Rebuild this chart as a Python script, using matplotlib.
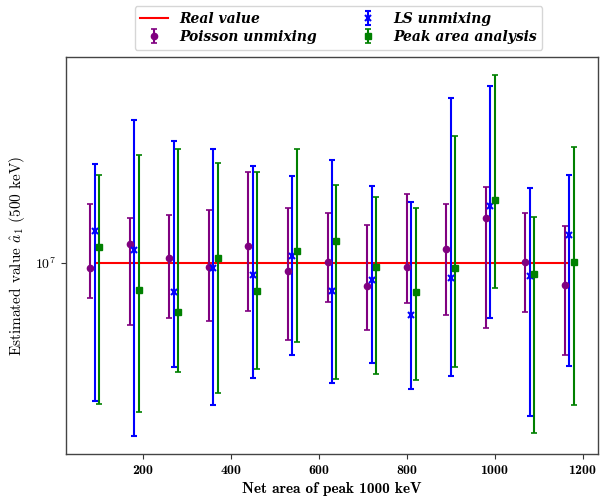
import numpy as np
import matplotlib
matplotlib.use("Agg")
import matplotlib.pyplot as plt

plt.rcParams['mathtext.fontset'] = 'cm'
plt.rcParams['font.family'] = 'cmr10'
plt.rcParams['axes.unicode_minus'] = False
plt.rcParams['axes.formatter.use_mathtext'] = True

# Data (values in units of 1e6)
poisson_x = [80, 170, 260, 350, 440, 530, 620, 710, 800, 890, 980, 1070, 1160]
ls_x = [90, 180, 270, 360, 450, 540, 630, 720, 810, 900, 990, 1080, 1170]
peak_x = [100, 190, 280, 370, 460, 550, 640, 730, 820, 910, 1000, 1090, 1180]

poisson_val = [9.76, 10.93, 10.22, 9.83, 10.81, 9.64, 10.06, 9.01, 9.82, 10.67, 12.27, 10.02, 9.05]
poisson_hi = [13.09, 12.27, 12.47, 12.76, 15.18, 12.86, 12.61, 11.88, 13.74, 13.12, 14.15, 12.61, 11.84]
poisson_lo = [8.50, 7.51, 7.75, 7.66, 8.01, 7.00, 8.37, 7.34, 8.33, 7.87, 7.40, 7.98, 6.54]

ls_val = [11.56, 10.60, 8.74, 9.79, 9.48, 10.30, 8.79, 9.26, 7.88, 9.33, 13.00, 9.42, 11.38]
ls_hi = [15.73, 19.32, 17.51, 16.90, 15.61, 14.89, 16.07, 14.22, 13.21, 21.38, 22.53, 14.09, 15.00]
ls_lo = [5.29, 4.51, 6.19, 5.19, 5.88, 6.55, 5.75, 6.30, 5.59, 5.95, 7.76, 4.94, 6.22]

peak_val = [10.77, 8.83, 7.97, 10.23, 8.77, 10.55, 11.07, 9.83, 8.74, 9.76, 13.37, 9.52, 10.06]
peak_hi = [15.00, 16.42, 16.90, 15.81, 15.23, 16.90, 14.30, 13.53, 12.88, 17.92, 23.74, 12.36, 17.01]
peak_lo = [5.23, 5.04, 6.04, 5.50, 6.14, 6.96, 5.85, 6.01, 5.83, 6.19, 8.89, 4.57, 5.19]

real_value = 10.0
scale = 1e6

fig = plt.figure(figsize=(6.09, 4.98), dpi=100)
ax = fig.add_axes([0.1084, 0.0884, 0.8736, 0.7971])


def err(val, lo, hi):
    v = np.array(val) * scale
    return v, [v - np.array(lo) * scale, np.array(hi) * scale - v]


ax.plot(ls_x, [real_value * scale] * len(ls_x), color='red', lw=1.5,
        label='Real value', zorder=1)

v, e = err(poisson_val, poisson_lo, poisson_hi)
ax.errorbar(poisson_x, v, yerr=e, fmt='o', color='purple', ms=4.5,
            elinewidth=1.5, capsize=2.5, capthick=1.2, label='Poisson unmixing')
v, e = err(ls_val, ls_lo, ls_hi)
ax.errorbar(ls_x, v, yerr=e, fmt='x', color='blue', ms=4.5, mew=1.5,
            elinewidth=1.5, capsize=2.5, capthick=1.2, label='LS unmixing')
v, e = err(peak_val, peak_lo, peak_hi)
ax.errorbar(peak_x, v, yerr=e, fmt='s', color='green', ms=4.5,
            elinewidth=1.5, capsize=2.5, capthick=1.2, label='Peak area analysis')

ax.set_yscale('log')
ax.minorticks_off()
ax.set_xticks([200, 400, 600, 800, 1000, 1200])
for lab in ax.get_xticklabels():
    lab.set_fontfamily('cmb10')
ax.tick_params(axis='both', labelsize=10, length=3.5, color='#333333')

for s in ax.spines.values():
    s.set_color('#444444')
    s.set_linewidth(1.0)

ax.set_xlabel('Net area of peak 1000 keV', fontfamily='cmb10', fontsize=11)
ax.set_ylabel(r'Estimated value $\hat{a}_1$ (500 keV)', fontsize=11, labelpad=6)

handles, labels = ax.get_legend_handles_labels()
leg = ax.legend(handles, labels, loc='upper center', bbox_to_anchor=(0.512, 1.145),
                ncol=2, prop={'family': 'DejaVu Serif', 'weight': 'bold',
                              'style': 'italic', 'size': 10},
                columnspacing=2.7, handlelength=2.0, borderpad=0.4,
                labelspacing=0.3)

fig.savefig('out.png', dpi=100)
